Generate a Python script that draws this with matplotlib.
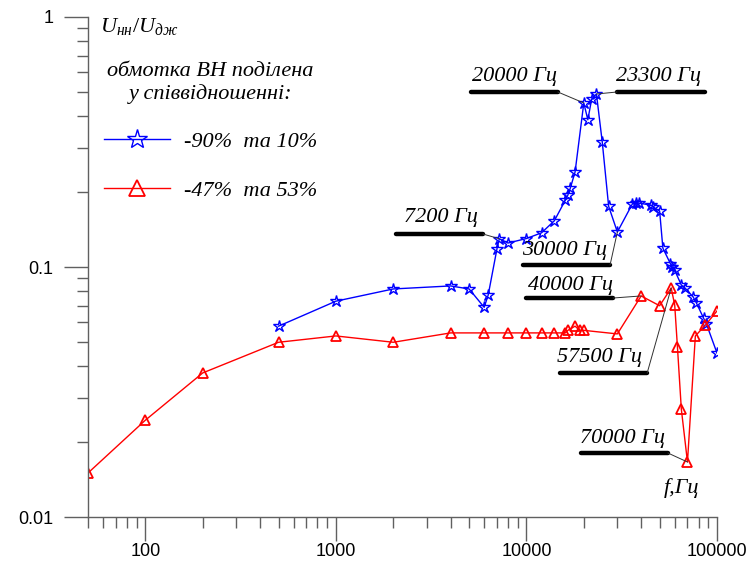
import numpy as np
import matplotlib.pyplot as plt
from matplotlib.ticker import FixedLocator, FixedFormatter, NullFormatter

plt.rcParams['mathtext.fontset'] = 'custom'
plt.rcParams['mathtext.it'] = 'Liberation Serif:italic'
plt.rcParams['mathtext.rm'] = 'Liberation Serif'

# ---- data ----
f_blue = [500, 1000, 2000, 4000, 5000, 6000, 6300, 7000, 7200, 8000,
          10000, 12000, 14000, 16000, 16500, 17000, 18000, 20000, 21000,
          22000, 23300, 25000, 27000, 30000, 36000, 37500, 39000, 45000,
          46000, 50000, 52000, 57000, 58000, 60000, 65000, 68000, 75000,
          78000, 85000, 88000, 100000]
u_blue = [0.058, 0.073, 0.0817, 0.084, 0.0817, 0.069, 0.0773, 0.118, 0.1297, 0.1247,
          0.130, 0.137, 0.153, 0.185, 0.194, 0.207, 0.240, 0.453, 0.388,
          0.47, 0.492, 0.316, 0.175, 0.138, 0.179, 0.18, 0.18, 0.177,
          0.174, 0.1675, 0.119, 0.103, 0.100, 0.097, 0.0847, 0.0824, 0.0759,
          0.0718, 0.0625, 0.0592, 0.0453]

f_red = [50, 100, 200, 500, 1000, 2000, 4000, 6000, 8000, 10000, 12000,
         14000, 16000, 16500, 18000, 19000, 20000, 30000, 40000, 50000,
         57500, 60000, 62000, 65000, 70000, 77000, 87000, 100000]
u_red = [0.015, 0.0244, 0.0377, 0.050, 0.053, 0.050, 0.0545, 0.0545, 0.0545, 0.0545, 0.0545,
         0.0545, 0.0545, 0.0558, 0.058, 0.0558, 0.0558, 0.054, 0.0766, 0.070,
         0.0824, 0.0705, 0.048, 0.027, 0.0166, 0.053, 0.0586, 0.0667]

x_major = [100, 1000, 10000, 100000]
x_labels = ['100', '1000', '10000', '100000']
x_minor = [50, 60, 70, 80, 90] + [k * 100 for k in range(2, 10)] + \
          [k * 1000 for k in range(2, 10)] + [k * 10000 for k in range(2, 10)]
y_major = [0.01, 0.1, 1]
y_labels = ['0.01', '0.1', '1']
y_minor = [k * 0.01 for k in range(2, 10)] + [k * 0.1 for k in range(2, 10)]

# annotations: text, series, frequency, text pos, bar (x0, x1, y) in axes fraction
notes = [
    ('20000 Гц', 'b', 20000, (0.610, 0.880), (0.609, 0.747, 0.850)),
    ('23300 Гц', 'b', 23300, (0.840, 0.880), (0.841, 0.981, 0.850)),
    ('7200 Гц', 'b', 7200, (0.502, 0.600), (0.490, 0.628, 0.566)),
    ('30000 Гц', 'b', 30000, (0.690, 0.534), (0.692, 0.830, 0.504)),
    ('40000 Гц', 'r', 40000, (0.699, 0.464), (0.696, 0.835, 0.438)),
    ('57500 Гц', 'r', 57500, (0.745, 0.320), (0.750, 0.889, 0.288)),
    ('70000 Гц', 'r', 70000, (0.783, 0.158), (0.784, 0.922, 0.128)),
]

serif_it = dict(family='Liberation Serif', style='italic')
fs = 16

fig = plt.figure(figsize=(7.51, 5.76), dpi=100)
ax = fig.add_axes([0.1172, 0.1024, 0.8375, 0.8681])
ax.set_xscale('log')
ax.set_yscale('log')

l1, = ax.plot(f_blue, u_blue, color='#0000ff', lw=1.0, marker='*', ms=9,
              mfc='none', mec='#0000ff', mew=1.0)
l2, = ax.plot(f_red, u_red, color='#ff0000', lw=1.0, marker='^', ms=7,
              mfc='none', mec='#ff0000', mew=1.3)

ax.set_xlim(50, 1e5)
ax.set_ylim(0.01, 1)

ax.xaxis.set_major_locator(FixedLocator(x_major))
ax.xaxis.set_major_formatter(FixedFormatter(x_labels))
ax.xaxis.set_minor_locator(FixedLocator(x_minor))
ax.xaxis.set_minor_formatter(NullFormatter())
ax.yaxis.set_major_locator(FixedLocator(y_major))
ax.yaxis.set_major_formatter(FixedFormatter(y_labels))
ax.yaxis.set_minor_locator(FixedLocator(y_minor))
ax.yaxis.set_minor_formatter(NullFormatter())

for s in ['top', 'right']:
    ax.spines[s].set_visible(False)
for s in ['left', 'bottom']:
    ax.spines[s].set_color('#606060')
    ax.spines[s].set_linewidth(1.0)
ax.tick_params(which='major', length=17, width=1.0, color='#606060',
               labelsize=13)
ax.tick_params(which='minor', length=8, width=1.0, color='#606060')
ax.tick_params(axis='y', pad=8)
ax.tick_params(axis='x', pad=2)
for lab in ax.get_xticklabels() + ax.get_yticklabels():
    lab.set_family('Liberation Sans')

# annotations with underline bars
for txt, ser, fq, tpos, bar in notes:
    if ser == 'b':
        yv = u_blue[f_blue.index(fq)]
    else:
        yv = u_red[f_red.index(fq)]
    ax.text(tpos[0], tpos[1], txt, transform=ax.transAxes, fontsize=fs,
            ha='left', va='center', **serif_it)
    ax.plot([bar[0], bar[1]], [bar[2], bar[2]], transform=ax.transAxes,
            color='black', lw=3.2, solid_capstyle='round', clip_on=False)
    bx = bar[1] if tpos[0] < 0.84 else bar[0]
    ax.annotate('', xy=(fq, yv), xycoords='data', xytext=(bx, bar[2]),
                textcoords='axes fraction',
                arrowprops=dict(arrowstyle='-', color='#303030', lw=0.7,
                                shrinkA=0, shrinkB=0))

ax.text(0.944, 0.058, 'f,Гц', transform=ax.transAxes, fontsize=fs,
        ha='center', va='center', **serif_it)
ax.text(0.019, 0.98, r'$U_{нн}/U_{дж}$', transform=ax.transAxes,
        fontsize=16, ha='left', va='center')

leg = ax.legend([l1, l2], ['-90%  та 10%', '-47%  та 53%'],
                loc='upper left', bbox_to_anchor=(0.025, 0.910),
                frameon=False, prop=dict(serif_it, size=fs),
                title='обмотка ВН поділена\nу співвідношенні:',
                title_fontproperties=dict(serif_it, size=fs),
                alignment='center',
                handlelength=3.0, handletextpad=0.6, labelspacing=1.25,
                borderpad=0, borderaxespad=0, markerscale=1.6)
leg.get_title().set_multialignment('center')

fig.savefig('out.png', dpi=100)
